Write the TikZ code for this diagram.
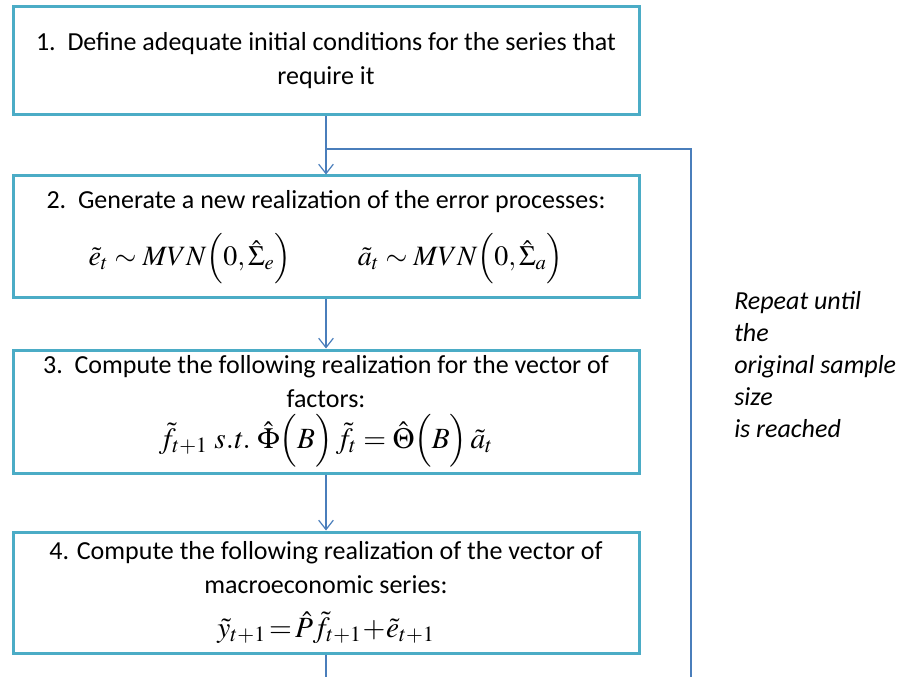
\documentclass[tikz,border=0pt]{standalone}
\usepackage{mathptmx}
\usepackage[no-math]{fontspec}
\setmainfont{Carlito}
\usetikzlibrary{arrows.meta}
\definecolor{boxc}{HTML}{4BACC6}
\definecolor{linec}{HTML}{4A7EBB}
\begin{document}
\begin{tikzpicture}[x=0.75pt,y=-0.75pt,
  stepbox/.style={draw=boxc,line width=2.25pt,fill=white,align=center,
    font=\fontsize{19.5}{25.5}\selectfont,minimum width=469.5pt,inner sep=0pt},
  conn/.style={draw=linec,line width=0.9pt},
  arr/.style={conn,-{Straight Barb[length=7pt,width=11pt]}},
  notetext/.style={align=left,font=\fontsize{19.5}{24}\selectfont\itshape,inner sep=0pt}]
\useasboundingbox (0,0) rectangle (903,677);
\node[stepbox,minimum height=81pt] (b1) at (326,61)
  {\rule{0pt}{10pt}1.\ \ Define adequate initial conditions for the series that\\require it};
\node[stepbox,minimum height=91.5pt] (b2) at (326,237)
  {2.\ \ Generate a new realization of the error processes:\\[15pt]
   {\fontsize{21}{25}\selectfont $\tilde e_t \sim MVN\Bigl(0,\hat\Sigma_e\Bigr)$\hspace{50pt}$\tilde a_t \sim MVN\Bigl(0,\hat\Sigma_a\Bigr)$}};
\node[stepbox,minimum height=92.25pt] (b3) at (326,411.5)
  {3.\ \ Compute the following realization for the vector of\\factors:\\[5pt]
   {\fontsize{22}{25}\selectfont $\tilde f_{t+1}\ \mathit{s.t.}\ \hat\Phi\Bigl(B\Bigr)\,\tilde f_t=\hat\Theta\Bigl(B\Bigr)\,\tilde a_t$}};
\node[stepbox,minimum height=90.75pt] (b4) at (326,592.5)
  {4. Compute the following realization of the vector of\\macroeconomic series:\\[7pt]
   {\fontsize{22}{25}\selectfont $\tilde y_{t+1}\!=\!\hat P\tilde f_{t+1}\!+\!\tilde e_{t+1}$}};
\node[notetext,anchor=north west] (note) at (734,291)
  {Repeat until\\the\\original sample\\size\\is reached};
\coordinate (j) at (326,149);
\coordinate (rb) at (691,677);
\coordinate (bb) at (326,677);
\draw[arr] (b1.south) -- (b2.north);
\draw[conn] (j) -| (rb);
\draw[arr] (b2.south) -- (b3.north);
\draw[arr] (b3.south) -- (b4.north);
\draw[conn] (b4.south) -- (bb);
\end{tikzpicture}
\end{document}
